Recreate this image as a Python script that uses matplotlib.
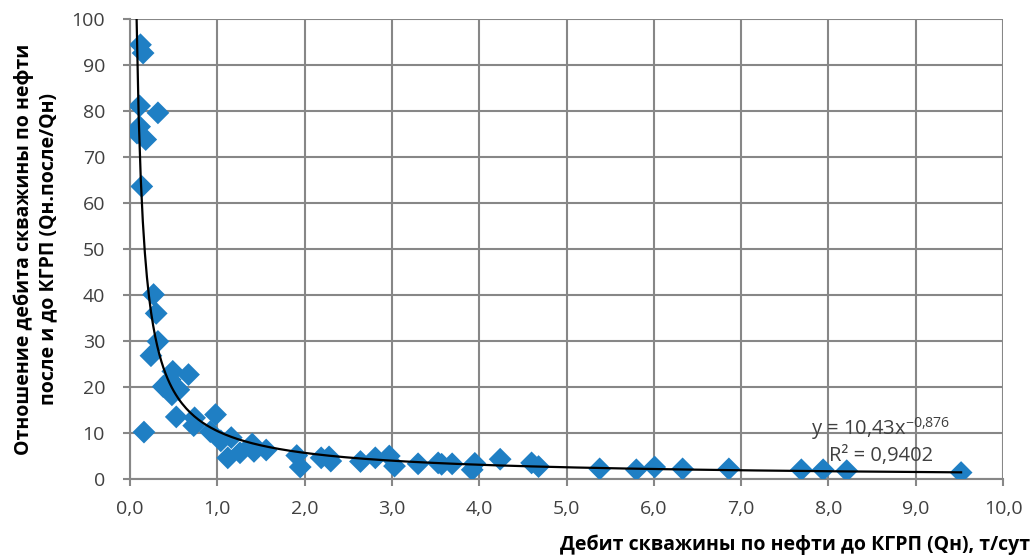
import numpy as np
import matplotlib
matplotlib.use("Agg")
import matplotlib.pyplot as plt

plt.rcParams['font.family'] = ['Open Sans', 'DejaVu Sans']
plt.rcParams['mathtext.fontset'] = 'custom'
plt.rcParams['mathtext.rm'] = 'Open Sans'
plt.rcParams['mathtext.it'] = 'Open Sans'

# Data: oil rate before fracturing (t/day) vs ratio after/before
x_q = [0.12, 0.15, 0.11, 0.32, 0.11, 0.08, 0.18, 0.135,
       0.27, 0.30, 0.32, 0.24, 0.49, 0.67, 0.38, 0.48, 0.56, 0.46,
       0.53, 0.16, 0.74, 0.73, 0.98, 0.92, 1.04, 1.16, 1.12, 1.26,
       1.40, 1.42, 1.56, 1.91, 1.95, 2.19, 2.28, 2.30,
       2.64, 2.81, 2.97, 3.03, 3.30, 3.53, 3.57, 3.69, 3.92, 3.95,
       4.24, 4.60, 4.68, 5.38, 5.80, 6.01, 6.33, 6.86, 7.69, 7.94,
       8.21, 9.52]
y_ratio = [94.4, 92.6, 81.1, 79.6, 76.6, 75.2, 73.8, 63.6,
           40.1, 36.0, 29.9, 26.8, 23.4, 22.7, 20.1, 18.3, 19.4, 21.6,
           13.5, 10.2, 13.3, 11.6, 14.0, 10.3, 8.3, 9.0, 4.6, 5.7,
           7.6, 6.0, 6.3, 5.1, 2.6, 4.6, 4.8, 3.9,
           3.8, 4.6, 5.0, 2.8, 3.3, 3.5, 3.2, 3.3, 2.0, 3.4,
           4.3, 3.5, 2.7, 2.2, 2.0, 2.6, 2.2, 2.2, 2.0, 2.0,
           1.8, 1.4]

fit_a = 10.43
fit_b = -0.876
eq_text = r"y = 10,43x$^{\mathrm{-0{,}876}}$"
r2_text = "R² = 0,9402"

x_ticks = [0, 1, 2, 3, 4, 5, 6, 7, 8, 9, 10]
x_ticklabels = ["0,0", "1,0", "2,0", "3,0", "4,0", "5,0", "6,0", "7,0", "8,0", "9,0", "10,0"]
y_ticks = [0, 10, 20, 30, 40, 50, 60, 70, 80, 90, 100]

xlabel = "Дебит скважины по нефти до КГРП (Qн), т/сут"
ylabel = "Отношение дебита скважины по нефти\nпосле и до КГРП (Qн.после/Qн)"

fig = plt.figure(figsize=(10.32, 5.59), dpi=100)
ax = fig.add_axes([130/1032, 1 - 479/559, (1003 - 130)/1032, (479 - 19)/559])

grid_c = '#878787'
ax.set_xlim(0, 10)
ax.set_ylim(0, 100)
ax.set_xticks(x_ticks)
ax.set_xticklabels(x_ticklabels)
ax.set_yticks(y_ticks)
ax.grid(True, color=grid_c, linewidth=1.5, zorder=0)
ax.set_axisbelow(True)
for s in ['top', 'right']:
    ax.spines[s].set_visible(False)
for s in ['left', 'bottom']:
    ax.spines[s].set_color(grid_c)
    ax.spines[s].set_linewidth(1.5)
ax.tick_params(axis='both', direction='out', length=5, width=1.5, color=grid_c,
               labelsize=14, labelcolor='#404040')
ax.tick_params(axis='y', pad=13)
ax.tick_params(axis='x', pad=10)

ax.scatter(x_q, y_ratio, marker='D', s=135, color='#1f7fc4', edgecolors='none', zorder=3)

x_start = (100 / fit_a) ** (1 / fit_b)
xf = np.linspace(x_start, max(x_q), 400)
ax.plot(xf, fit_a * xf ** fit_b, color='black', linewidth=1.6, zorder=4)

ax.text(8.6, 11.0, eq_text, fontsize=14.5, color='#404040', ha='center', va='center', zorder=5)
ax.text(8.6, 5.1, r2_text, fontsize=14.5, color='#404040', ha='center', va='center', zorder=5)

fig.text(1030/1032, 1 - 545/559, xlabel, fontsize=14, fontweight='bold', ha='right', va='center')
fig.text(36/1032, 1 - 249/559, ylabel, fontsize=14, fontweight='bold', ha='center', va='center',
         rotation=90, multialignment='center', linespacing=1.3)

fig.savefig('out.png', dpi=100)
